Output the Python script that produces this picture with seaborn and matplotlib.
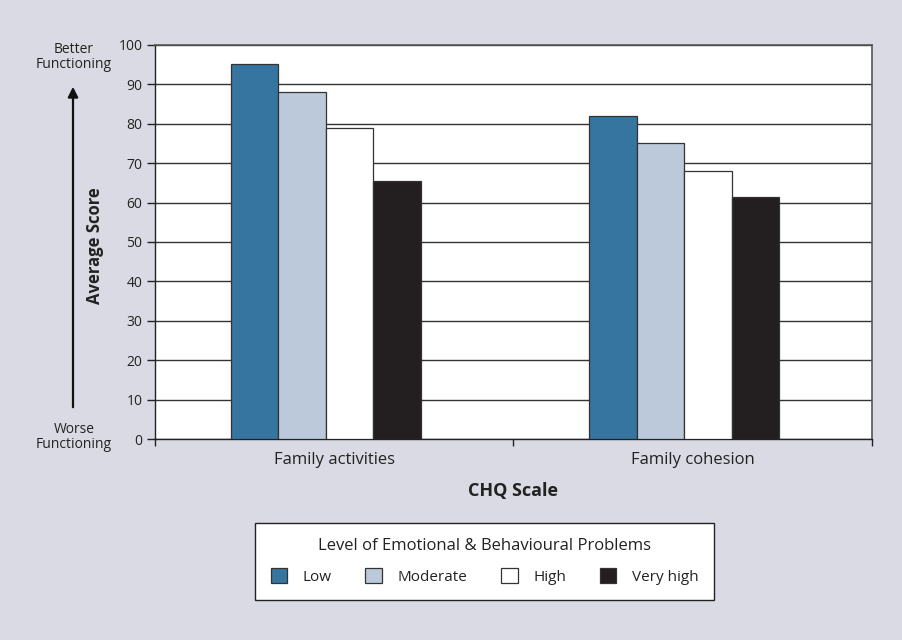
import matplotlib
matplotlib.use("Agg")
import matplotlib.pyplot as plt
import pandas as pd
import seaborn as sns
from matplotlib.patches import Patch, FancyArrowPatch

# values
scales = ["Family activities", "Family cohesion"]
levels = ["Low", "Moderate", "High", "Very high"]
low = [95, 82]
moderate = [88, 75]
high = [79, 68]
very_high = [65.5, 61.5]
yticks = [0, 10, 20, 30, 40, 50, 60, 70, 80, 90, 100]

colors = {"Low": "#35759f", "Moderate": "#bbc9db", "High": "#ffffff", "Very high": "#231f20"}
bg = "#dadae4"
ink = "#222222"

rows = []
for lvl, vals in zip(levels, [low, moderate, high, very_high]):
    for sc, v in zip(scales, vals):
        rows.append({"scale": sc, "level": lvl, "score": v})
df = pd.DataFrame(rows)

sns.set_theme(style="white")
plt.rcParams["font.family"] = ["Open Sans", "DejaVu Sans"]

fig = plt.figure(figsize=(9.02, 6.4), dpi=100, facecolor=bg)
ax = fig.add_axes([0.1718, 0.3136, 0.7949, 0.6166])
ax.set_facecolor("white")

sns.barplot(data=df, x="scale", y="score", hue="level", hue_order=levels,
            order=scales, palette=colors, width=0.53, saturation=1,
            edgecolor="#333333", linewidth=0.9, ax=ax, legend=False, zorder=3)
# bar groups sit slightly left of the category centre in the original
for p in ax.patches:
    p.set_x(p.get_x() - 0.024)

ax.set_ylim(0, 100)
ax.set_xlim(-0.5, 1.5)
ax.set_yticks(yticks)
ax.yaxis.grid(True, color="#333333", linewidth=1.0, zorder=0)
ax.set_axisbelow(True)
ax.tick_params(axis="y", which="major", direction="out", length=6, width=1,
               color=ink, labelsize=10, labelcolor=ink, pad=3, left=True)
ax.set_xticks([0, 1])
ax.set_xticklabels(scales)
ax.tick_params(axis="x", which="major", length=0, labelsize=12, labelcolor=ink, pad=9)
ax.set_xticks([-0.5, 0.5, 1.5], minor=True)
ax.tick_params(axis="x", which="minor", direction="out", length=5, width=1, color=ink, bottom=True)
ax.set_xlabel("")
ax.set_ylabel("")
for side in ["left", "bottom"]:
    ax.spines[side].set_color(ink)
    ax.spines[side].set_linewidth(1.0)
for side in ["top", "right"]:
    ax.spines[side].set_color("#555555")
    ax.spines[side].set_linewidth(1.2)

# axis titles and direction arrow
fig.text(513.5 / 902, 1 - 491 / 640, "CHQ Scale", ha="center", va="center",
         fontsize=13, fontweight="bold", color=ink)
fig.text(95 / 902, 1 - 246 / 640, "Average Score", ha="center", va="center",
         rotation=90, fontsize=12, fontweight="bold", color=ink)
fig.text(74 / 902, 1 - 57 / 640, "Better\nFunctioning", ha="center", va="center",
         fontsize=10, color=ink, linespacing=1.05)
fig.text(74 / 902, 1 - 437 / 640, "Worse\nFunctioning", ha="center", va="center",
         fontsize=10, color=ink, linespacing=1.05)
fig.patches.append(FancyArrowPatch(
    (73 / 902, 1 - 410 / 640), (73 / 902, 1 - 84 / 640), transform=fig.transFigure,
    arrowstyle="-|>", mutation_scale=15, color="#111111", linewidth=1.6))

# legend
handles = [Patch(facecolor=colors[l], edgecolor="#333333", linewidth=0.9, label=l) for l in levels]
leg = fig.legend(handles=handles, loc="center", bbox_to_anchor=(484.5 / 902, 1 - 561.5 / 640),
                 ncol=4, title="Level of Emotional & Behavioural Problems",
                 fontsize=11, title_fontsize=12, frameon=True, fancybox=False,
                 edgecolor=ink, facecolor="white", framealpha=1,
                 handlelength=1.1, handleheight=1.1, handletextpad=1.0,
                 columnspacing=2.2, labelspacing=0.9, borderpad=1.0, borderaxespad=0)
leg.get_frame().set_linewidth(1.0)
leg.get_title().set_color(ink)
for t in leg.get_texts():
    t.set_color(ink)

fig.savefig("out.png", dpi=100, facecolor=bg)
